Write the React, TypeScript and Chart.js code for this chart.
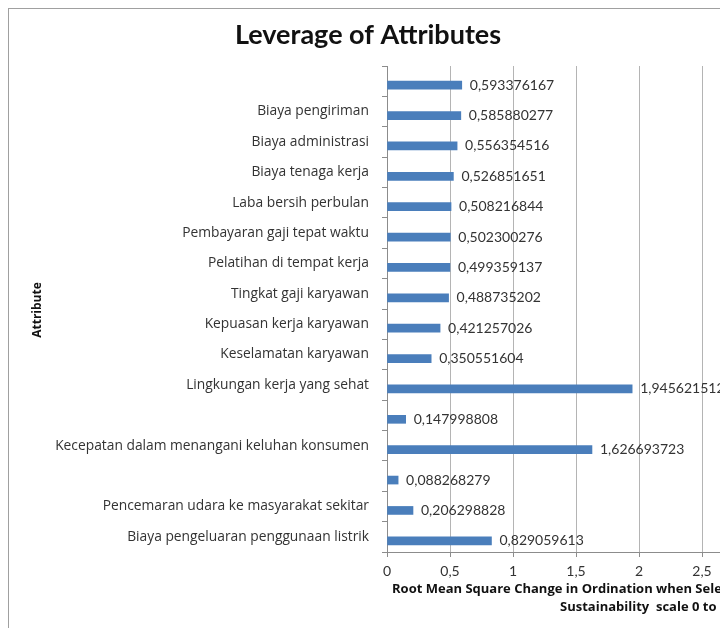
import React, { useEffect, useRef } from 'react';
import { Chart, registerables } from 'chart.js';

Chart.register(...registerables);

const categories: string[] = [
  '',
  'Biaya pengiriman',
  'Biaya administrasi',
  'Biaya tenaga kerja',
  'Laba bersih perbulan',
  'Pembayaran gaji tepat waktu',
  'Pelatihan di tempat kerja',
  'Tingkat gaji karyawan',
  'Kepuasan kerja karyawan',
  'Keselamatan karyawan',
  'Lingkungan kerja yang sehat',
  '',
  'Kecepatan dalam menangani keluhan konsumen',
  '',
  'Pencemaran udara ke masyarakat sekitar',
  'Biaya pengeluaran penggunaan listrik',
];

const leverageValues: number[] = [
  0.593376167,
  0.585880277,
  0.556354516,
  0.526851651,
  0.508216844,
  0.502300276,
  0.499359137,
  0.488735202,
  0.421257026,
  0.350551604,
  1.945621512,
  0.147998808,
  1.626693723,
  0.088268279,
  0.206298828,
  0.829059613,
];

// Empty second series (as in the source workbook) that only reserves space in each category
const emptySeries: (number | null)[] = [
  null, null, null, null, null, null, null, null,
  null, null, null, null, null, null, null, null,
];

const xAxisMin = 0;
const xAxisMax = 3;
const xAxisStep = 0.5;

const chartTitle = 'Leverage of Attributes';
const yAxisTitle = 'Attribute';
const xAxisTitleLines: string[] = [
  'Root Mean Square Change in Ordination when Selected Attribute Removed (on',
  'Sustainability  scale 0 to 100)',
];

const NUM_FONT = 'Lato, "Open Sans", sans-serif';
const LABEL_FONT = '"Open Sans", Lato, sans-serif';
const TEXT = '#333333';

const fmt = (v: number) => String(v).replace('.', ',');

const valueLabels = {
  id: 'valueLabels',
  afterDatasetsDraw(chart: any) {
    const ctx = chart.ctx;
    const meta = chart.getDatasetMeta(1);
    ctx.save();
    ctx.font = `14px ${NUM_FONT}`;
    ctx.fillStyle = TEXT;
    ctx.textAlign = 'left';
    ctx.textBaseline = 'middle';
    meta.data.forEach((bar: any, i: number) => {
      const v = leverageValues[i];
      if (v == null) return;
      ctx.fillText(fmt(v), bar.x + 8, bar.y);
    });
    ctx.restore();
  },
};

const titles = {
  id: 'titles',
  afterDraw(chart: any) {
    const ctx = chart.ctx;
    ctx.save();
    ctx.fillStyle = '#111111';
    ctx.textBaseline = 'middle';
    ctx.font = `bold 27px ${NUM_FONT}`;
    ctx.textAlign = 'center';
    ctx.fillText(chartTitle, 359, 26);

    ctx.font = `bold 12px ${LABEL_FONT}`;
    ctx.save();
    ctx.translate(29, 301);
    ctx.rotate(-Math.PI / 2);
    ctx.textAlign = 'center';
    ctx.fillText(yAxisTitle, 0, 0);
    ctx.restore();

    ctx.font = `bold 13px ${LABEL_FONT}`;
    ctx.textAlign = 'left';
    ctx.fillText(xAxisTitleLines[0], 383, 580);
    ctx.fillText(xAxisTitleLines[1], 551, 598);
    ctx.restore();
  },
};

export default function App() {
  const canvasRef = useRef<HTMLCanvasElement | null>(null);

  useEffect(() => {
    const canvas = canvasRef.current;
    if (!canvas) return;
    const chart = new Chart(canvas, {
      type: 'bar',
      data: {
        labels: categories,
        datasets: [
          {
            label: 'Series 2',
            data: emptySeries as any,
            backgroundColor: '#4a7ebb',
            barThickness: 8,
          },
          {
            label: 'Series 1',
            data: leverageValues,
            backgroundColor: '#4a7ebb',
            barThickness: 8,
          },
        ],
      },
      options: {
        indexAxis: 'y',
        animation: false,
        responsive: false,
        devicePixelRatio: 1,
        layout: { padding: { top: 57, bottom: 57, left: 0, right: 64 } },
        plugins: {
          legend: { display: false },
          tooltip: { enabled: false },
          title: { display: false },
        },
        scales: {
          x: {
            type: 'linear',
            min: xAxisMin,
            max: xAxisMax,
            ticks: {
              stepSize: xAxisStep,
              callback: (v: any) => fmt(Number(v)),
              font: { family: NUM_FONT, size: 14 },
              color: TEXT,
              padding: 6,
            },
            grid: { color: '#b4b4b4', lineWidth: 1, tickLength: 5, tickColor: '#8c8c8c' },
            border: { color: '#8c8c8c' },
            afterFit: (s: any) => {
              s.height = 40;
            },
          },
          y: {
            type: 'category',
            ticks: {
              font: { family: LABEL_FONT, size: 13.8 },
              color: TEXT,
              padding: 13,
              autoSkip: false,
            },
            grid: { offset: true, drawOnChartArea: false, tickLength: 5, color: '#8c8c8c' },
            border: { color: '#8c8c8c' },
            afterFit: (s: any) => {
              s.width = 378;
            },
          },
        },
      },
      plugins: [valueLabels, titles],
    });
    return () => chart.destroy();
  }, []);

  return (
    <div
      style={{
        position: 'fixed',
        left: 0,
        top: 0,
        width: 720,
        height: 628,
        overflow: 'hidden',
        background: '#ffffff',
      }}
    >
      <div
        style={{
          position: 'absolute',
          left: 8,
          top: 8,
          width: 860,
          height: 700,
          borderLeft: '1px solid #a0a0a0',
          borderTop: '1px solid #a0a0a0',
        }}
      >
        <canvas
          ref={canvasRef}
          width={820}
          height={640}
          style={{ display: 'block', width: 820, height: 640 }}
        />
      </div>
    </div>
  );
}
